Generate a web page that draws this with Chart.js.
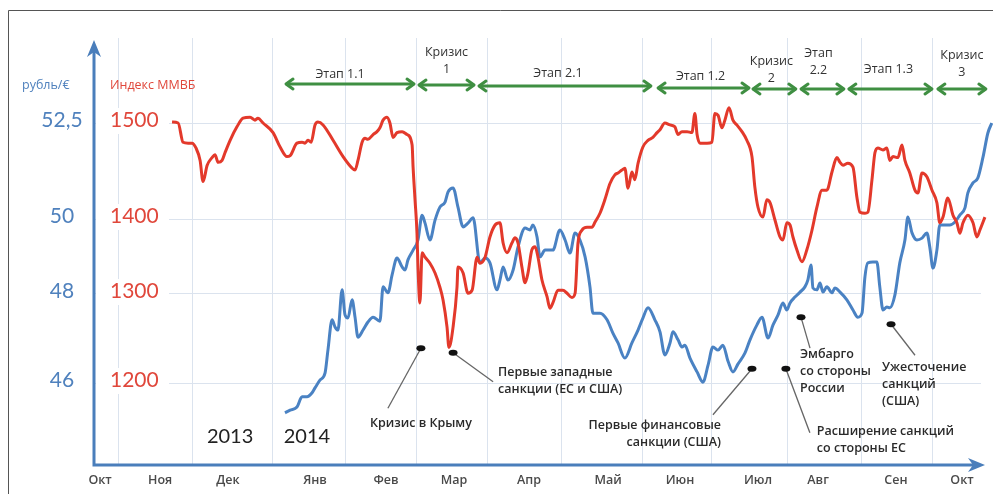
<!DOCTYPE html>
<html>
<head>
<meta charset="utf-8">
<script src="https://cdn.jsdelivr.net/npm/chart.js@4.4.0/dist/chart.umd.min.js"></script>
<style>
  html, body { margin: 0; padding: 0; background: #fff; }
  canvas { display: block; }
</style>
</head>
<body>
<canvas id="chart" width="993" height="494"></canvas>
<script>
// ---- Data: days counted from 1 Oct 2013 ----
const micexDays = [53.1,55.6,57.6,59.7,61.3,62.9,64.6,65.8,67.5,69.5,70.7,72.0,73.6,74.8,76.9,79.7,82.2,85.1,87.1,88.3,90.4,94.5,97.4,100.2,101.5,104.3,106.4,107.6,108.8,110.1,111.7,112.9,115.0,119.1,123.2,126.9,128.1,129.3,131.0,132.2,133.4,135.5,137.1,138.3,139.6,141.2,142.4,143.7,145.3,147.4,149.4,151.5,151.9,152.7,153.5,153.9,154.7,155.6,156.8,158.8,160.9,162.9,164.2,165.8,166.6,168.3,169.9,170.3,172.4,174.4,176.1,178.1,179.3,181.4,183.4,185.5,187.5,188.8,190.4,192.4,193.7,194.9,196.5,197.8,199.0,200.6,201.9,203.1,204.7,206.8,208.0,209.2,211.3,213.3,215.0,217.0,218.3,219.5,221.1,223.2,225.2,226.5,228.5,230.5,232.6,234.6,235.9,237.5,238.7,240.0,241.6,242.8,244.1,246.1,248.2,250.2,251.9,253.1,255.1,257.2,259.2,260.5,262.1,264.2,266.2,267.4,268.3,269.5,272.4,274.4,275.6,276.9,278.5,279.7,281.4,283.0,284.6,286.7,288.7,290.8,292.0,293.3,295.3,296.9,298.2,300.2,302.3,303.5,305.1,306.4,307.6,309.2,311.3,313.3,315.4,317.4,319.5,321.5,323.6,325.6,326.9,328.1,330.1,332.2,333.8,335.1,337.1,338.3,340.0,341.2,342.4,344.5,346.1,347.3,348.6,350.6,352.3,353.5,355.5,357.6,358.8,360.5,362.5,364.6,366.6,367.8,369.1,371.1,373.2,374.8,376.0,377.3,379.3,381.4,383.0,384.2,386.3];
const micexValues = [1501,1500,1480,1479,1479,1474,1461,1439,1456,1464,1467,1459,1461,1469,1482,1496,1505,1506,1503,1505,1500,1490,1475,1465,1466,1479,1480,1479,1482,1480,1498,1501,1498,1482,1465,1453,1451,1461,1480,1484,1483,1488,1491,1495,1503,1506,1500,1485,1490,1491,1488,1477,1454,1420,1381,1336,1290,1355,1349,1341,1328,1309,1293,1263,1240,1263,1309,1336,1328,1301,1305,1349,1341,1349,1376,1392,1395,1368,1355,1368,1375,1368,1336,1315,1328,1359,1363,1349,1319,1297,1284,1290,1305,1305,1301,1296,1301,1368,1385,1389,1389,1396,1406,1420,1437,1446,1448,1451,1453,1432,1449,1441,1458,1475,1482,1485,1490,1493,1500,1498,1496,1488,1491,1491,1490,1510,1488,1479,1479,1480,1510,1508,1495,1503,1516,1503,1498,1491,1482,1465,1433,1412,1402,1420,1417,1399,1376,1372,1395,1392,1376,1359,1343,1359,1385,1412,1430,1430,1449,1464,1459,1456,1458,1454,1423,1407,1406,1407,1441,1469,1474,1472,1474,1461,1465,1464,1477,1461,1448,1430,1427,1448,1444,1430,1417,1395,1402,1422,1404,1395,1381,1395,1404,1395,1376,1385,1402];

const rubDays = [99.4,101.5,104.3,106.4,108.4,110.5,111.7,113.8,115.8,117.0,118.7,119.9,121.1,122.8,124.0,125.2,126.9,128.1,129.3,131.4,133.4,135.5,138.3,139.6,141.6,143.3,145.3,147.4,148.6,149.8,151.9,153.9,155.6,156.8,158.8,160.9,162.9,165.0,166.2,168.3,170.3,172.4,174.4,176.5,179.3,181.4,183.4,186.3,187.5,188.8,190.8,192.9,194.9,197.8,199.8,201.0,202.7,203.9,206.0,209.2,212.1,214.2,216.2,218.3,220.3,222.4,224.4,225.6,228.5,231.4,233.8,235.9,238.7,241.6,244.1,246.1,248.2,251.0,253.1,255.1,257.2,258.4,260.5,262.1,263.3,265.4,268.3,270.7,272.8,274.8,276.9,278.9,281.0,283.0,285.1,287.9,290.0,292.8,294.9,297.4,299.4,301.5,303.5,305.1,306.4,308.4,310.5,312.5,313.7,315.0,315.8,317.4,318.7,319.9,321.5,323.6,324.8,326.9,329.7,332.2,334.2,335.9,337.1,338.3,340.4,342.0,343.2,344.5,346.1,347.3,349.4,351.4,353.5,354.7,356.4,358.4,360.5,362.5,363.7,365.0,366.6,367.8,369.9,371.9,374.0,376.0,378.1,379.3,381.4,383.4,385.5,387.5,389.1];
const rubValues = [45.33,45.39,45.46,45.69,45.69,45.78,45.89,46.07,46.22,46.74,47.42,47.26,47.19,48.11,47.53,47.46,47.87,47.48,47.03,47.19,47.37,47.48,47.39,48.19,48.03,48.51,48.96,48.72,48.64,48.91,49.17,49.44,50.10,49.89,49.44,49.97,50.31,50.44,50.70,50.81,50.31,49.79,49.89,50.03,48.83,48.96,48.83,48.11,48.37,48.72,48.37,48.64,49.25,49.76,49.71,49.84,49.52,48.99,49.17,49.17,49.71,49.44,49.09,49.63,49.44,48.99,48.19,47.57,47.57,47.42,47.12,46.90,46.56,46.90,47.19,47.46,47.69,47.42,47.15,46.63,46.90,47.15,46.97,46.81,46.85,46.56,46.25,46.02,46.40,46.81,46.74,46.85,46.49,46.25,46.43,46.67,46.97,47.30,47.48,47.01,47.30,47.53,47.80,47.64,47.80,47.93,48.05,48.19,48.37,48.77,48.16,48.11,48.29,48.05,48.19,48.03,48.16,48.05,47.87,47.64,47.48,47.57,48.45,48.83,48.85,48.85,48.19,47.64,47.71,47.69,47.98,48.83,49.44,50.05,49.63,49.44,49.49,49.63,49.25,48.69,49.17,49.84,49.84,49.84,49.92,50.10,50.29,50.68,50.94,51.07,51.61,52.24,52.50];

// ---- Axis ticks and labels ----
const micexTicks = [1200, 1300, 1400, 1500];
const rubTicks = [46, 48, 50, 52.5];
const monthGridDays = [31.0, 61.3, 94.1, 124.4, 153.5, 182.6, 212.9, 246.1, 274.4, 305.5, 335.8, 364.9];
const monthNames = ['Окт','Ноя','Дек','Янв','Фев','Мар','Апр','Май','Июн','Июл','Авг','Сен','Окт'];
const monthLabelDays = [23.6, 48.2, 76.0, 111.7, 140.8, 168.7, 199.4, 231.8, 261.3, 293.3, 317.9, 349.8, 376.9];
const yearNames = ['2013', '2014'];
const yearDays = [76.9, 108.4];

// ---- Periods (stages) ----
const stageNames = [['Этап 1.1'], ['Кризис', '1'], ['Этап 2.1'], ['Этап 1.2'], ['Кризис', '2'], ['Этап', '2.2'], ['Этап 1.3'], ['Кризис', '3']];
const stageStart = [99.4, 153.9, 178.5, 251.9, 290.8, 310.5, 330.1, 366.6];
const stageEnd = [152.7, 177.3, 249.8, 290.0, 309.2, 328.9, 365.0, 387.1];

// ---- Events ----
const eventTexts = [
  ['Кризис в Крыму'],
  ['Первые западные', 'санкции (ЕС и США)'],
  ['Первые финансовые', 'санкции (США)'],
  ['Расширение санкций', 'со стороны ЕС'],
  ['Эмбарго', 'со стороны', 'России'],
  ['Ужесточение', 'санкций', '(США)']
];
const eventDays = [155.1, 168.3, 290.8, 304.7, 310.9, 347.8];
const eventLevels = [1239, 1234, 1216, 1216, 1274, 1266];

// ---- Styling ----
const RED = '#e3392b';
const BLUE = '#4a82c3';
const AXIS_BLUE = '#4a7ebb';
const GRID = '#dbe3ee';
const GREEN = '#3f8f42';
const TEXT = '#2a2a2a';

const stageStyle = {
  arrowY: [84, 85, 86, 88, 89, 89, 89, 89],
  labelY: [74, 52, 73, 76, 61, 53, 69, 55],
  labelDx: [-10, 0, -7, -3, -3, -4, -2, 0]
};
const eventStyle = [
  { lead: [-33, 60], text: [0, 75], align: 'center' },
  { lead: [40, 29], text: [45, 20], align: 'left' },
  { lead: [-39, 46], text: [-31, 57], align: 'right' },
  { lead: [24, 64], text: [31, 63], align: 'left' },
  { lead: [9, 31], text: [-1, 37], align: 'left' },
  { lead: [24, 31], text: [-9, 43], align: 'left' }
];

// Piecewise-linear value axis: tick values sit at fixed fractions of the plot height
const scaleStops = {
  y:  micexTicks.map((v, i) => [v, [0.1920, 0.4005, 0.5761, 0.8009][i]]),
  y2: rubTicks.map((v, i) => [v, [0.1920, 0.4005, 0.5761, 0.8009][i]])
};

class SegmentedScale extends Chart.LinearScale {
  static id = 'segmented';
  static defaults = {};
  _frac(v) {
    const s = scaleStops[this.id];
    let i = 0;
    if (v >= s[s.length - 1][0]) i = s.length - 2;
    else if (v > s[0][0]) { while (v > s[i + 1][0]) i++; }
    const [v0, f0] = s[i], [v1, f1] = s[i + 1];
    return f0 + (v - v0) * (f1 - f0) / (v1 - v0);
  }
  getPixelForValue(v) {
    if (v === null || v === undefined || isNaN(v)) return NaN;
    return this.bottom - this._frac(v) * (this.bottom - this.top);
  }
  getValueForPixel(p) {
    const s = scaleStops[this.id];
    const f = (this.bottom - p) / (this.bottom - this.top);
    let i = 0;
    if (f >= s[s.length - 1][1]) i = s.length - 2;
    else if (f > s[0][1]) { while (f > s[i + 1][1]) i++; }
    const [v0, f0] = s[i], [v1, f1] = s[i + 1];
    return v0 + (f - f0) * (v1 - v0) / (f1 - f0);
  }
}
Chart.register(SegmentedScale);

function text(ctx, str, x, y, font, color, align) {
  ctx.font = font;
  ctx.fillStyle = color;
  ctx.textAlign = align || 'left';
  ctx.textBaseline = 'middle';
  ctx.fillText(str, x, y);
}

function doubleArrow(ctx, x1, x2, y) {
  ctx.beginPath();
  ctx.moveTo(x1 + 2, y); ctx.lineTo(x2 - 2, y);
  ctx.stroke();
  ctx.beginPath();
  ctx.moveTo(x1 + 8, y - 5); ctx.lineTo(x1 + 1, y); ctx.lineTo(x1 + 8, y + 5);
  ctx.stroke();
  ctx.beginPath();
  ctx.moveTo(x2 - 8, y - 5); ctx.lineTo(x2 - 1, y); ctx.lineTo(x2 - 8, y + 5);
  ctx.stroke();
}

const decor = {
  id: 'decor',
  beforeDatasetsDraw(chart) {
    const { ctx, chartArea: a } = chart;
    const ys = chart.scales.y;
    ctx.save();
    ctx.fillStyle = '#fff';
    // trim grid at right edge
    ctx.fillRect(981, a.top - 1, a.right - 981 + 1, a.bottom - a.top - 2);
    // backing for the index tick labels
    micexTicks.forEach(v => {
      const py = ys.getPixelForValue(v);
      ctx.fillRect(96, py - 15, 73, 26);
    });
    ctx.restore();
  },
  afterDatasetsDraw(chart) {
    const { ctx, chartArea: a } = chart;
    const xs = chart.scales.x, ys = chart.scales.y, y2 = chart.scales.y2;
    ctx.save();

    // outer frame
    ctx.strokeStyle = '#555';
    ctx.lineWidth = 1;
    ctx.beginPath();
    ctx.moveTo(8.5, 494); ctx.lineTo(8.5, 10.5); ctx.lineTo(993, 10.5);
    ctx.stroke();

    // axes with arrows
    ctx.strokeStyle = AXIS_BLUE;
    ctx.fillStyle = AXIS_BLUE;
    ctx.lineWidth = 3;
    ctx.beginPath();
    ctx.moveTo(94, a.bottom + 1.5); ctx.lineTo(94, 52);
    ctx.moveTo(92.5, a.bottom); ctx.lineTo(976, a.bottom);
    ctx.stroke();
    ctx.beginPath();
    ctx.moveTo(94, 40); ctx.lineTo(101, 57); ctx.lineTo(94, 52); ctx.lineTo(87, 57); ctx.closePath();
    ctx.fill();
    ctx.beginPath();
    ctx.moveTo(985, a.bottom); ctx.lineTo(968, a.bottom - 7); ctx.lineTo(973, a.bottom); ctx.lineTo(968, a.bottom + 7); ctx.closePath();
    ctx.fill();

    // value tick labels
    rubTicks.forEach(v => {
      text(ctx, String(v).replace('.', ','), 62, y2.getPixelForValue(v) - 3, '21px Lato', '#4f81bd', 'center');
    });
    micexTicks.forEach(v => {
      text(ctx, String(v), 110, ys.getPixelForValue(v) - 3, '21px Lato', '#e0473b', 'left');
    });
    text(ctx, 'рубль/€', 22, 85, '12.5px "Open Sans"', '#4f81bd', 'left');
    text(ctx, 'Индекс ММВБ', 110, 85, '12.5px "Open Sans"', '#e0473b', 'left');

    // month and year labels
    monthNames.forEach((m, i) => {
      text(ctx, m, xs.getPixelForValue(monthLabelDays[i]), 480, '600 12.5px "Open Sans"', '#4a4a4a', 'center');
    });
    yearNames.forEach((y, i) => {
      text(ctx, y, xs.getPixelForValue(yearDays[i]), 437, '20px Lato', '#222', 'center');
    });

    // stage arrows
    ctx.strokeStyle = GREEN;
    ctx.lineWidth = 3;
    ctx.lineCap = 'round';
    ctx.lineJoin = 'round';
    stageNames.forEach((lines, i) => {
      const x1 = xs.getPixelForValue(stageStart[i]);
      const x2 = xs.getPixelForValue(stageEnd[i]);
      doubleArrow(ctx, x1, x2, stageStyle.arrowY[i]);
      const cx = (x1 + x2) / 2 + stageStyle.labelDx[i];
      lines.forEach((ln, k) => {
        text(ctx, ln, cx, stageStyle.labelY[i] + k * 17, '12.5px "Open Sans"', '#333', 'center');
      });
    });

    // events
    eventTexts.forEach((lines, i) => {
      const px = xs.getPixelForValue(eventDays[i]);
      const py = ys.getPixelForValue(eventLevels[i]);
      const st = eventStyle[i];
      ctx.strokeStyle = '#666';
      ctx.lineWidth = 1.3;
      ctx.lineCap = 'butt';
      ctx.beginPath();
      ctx.moveTo(px, py);
      ctx.lineTo(px + st.lead[0], py + st.lead[1]);
      ctx.stroke();
      ctx.fillStyle = '#111';
      ctx.beginPath();
      ctx.ellipse(px, py, 4.5, 3, 0, 0, Math.PI * 2);
      ctx.fill();
      lines.forEach((ln, k) => {
        text(ctx, ln, px + st.text[0], py + st.text[1] + k * 17, '600 12.5px "Open Sans"', TEXT, st.align);
      });
    });

    ctx.restore();
  }
};

const toPoints = (xsArr, ysArr) => xsArr.map((x, i) => ({ x, y: ysArr[i] }));

new Chart(document.getElementById('chart'), {
  type: 'line',
  data: {
    datasets: [
      {
        label: 'Индекс ММВБ',
        data: toPoints(micexDays, micexValues),
        yAxisID: 'y',
        borderColor: RED,
        borderWidth: 3,
        pointRadius: 0,
        cubicInterpolationMode: 'monotone'
      },
      {
        label: 'рубль/€',
        data: toPoints(rubDays, rubValues),
        yAxisID: 'y2',
        borderColor: BLUE,
        borderWidth: 3,
        pointRadius: 0,
        cubicInterpolationMode: 'monotone'
      }
    ]
  },
  options: {
    responsive: false,
    animation: false,
    devicePixelRatio: 1,
    events: [],
    layout: { padding: { left: 93, right: 0, top: 38, bottom: 29 } },
    plugins: { legend: { display: false }, tooltip: { enabled: false } },
    scales: {
      x: {
        type: 'linear',
        min: 20.7,
        max: 389.6,
        afterBuildTicks: s => { s.ticks = monthGridDays.map(v => ({ value: v })); },
        afterFit: s => { s.height = 0; },
        ticks: { display: false },
        grid: { color: GRID, lineWidth: 1, drawTicks: false },
        border: { display: false }
      },
      y: {
        type: 'segmented',
        position: 'left',
        min: 1100,
        max: 1600,
        afterBuildTicks: s => { s.ticks = micexTicks.map(v => ({ value: v })); },
        afterFit: s => { s.width = 0; },
        ticks: { display: false },
        grid: { color: GRID, lineWidth: 1, drawTicks: false },
        border: { display: false }
      },
      y2: {
        type: 'segmented',
        position: 'left',
        display: false,
        min: 43,
        max: 55,
        afterBuildTicks: s => { s.ticks = rubTicks.map(v => ({ value: v })); }
      }
    }
  },
  plugins: [decor]
});
</script>
</body>
</html>
